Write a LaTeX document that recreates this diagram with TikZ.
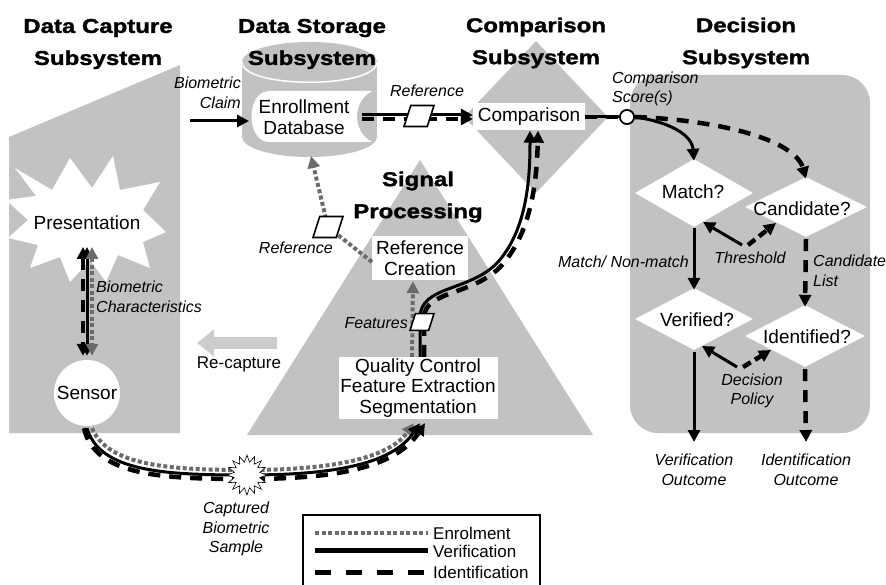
\documentclass[tikz,border=0pt]{standalone}
\usepackage{fontspec}
\setmainfont{Liberation Sans}
\newfontfamily\titlefont{Liberation Sans}[FakeStretch=1.2,BoldFeatures={FakeBold=1.5}]
\usetikzlibrary{arrows.meta,shapes.geometric}
\definecolor{panel}{gray}{0.76}
\definecolor{egray}{gray}{0.42}
\definecolor{rgray}{gray}{0.8}
\tikzset{
 ttl/.style={font=\titlefont\bfseries\fontsize{20}{32}\selectfont, align=center, inner sep=0pt},
 body/.style={font=\fontsize{19}{20.5}\selectfont, align=center, inner sep=0pt},
 lbl/.style={font=\itshape\fontsize{16}{19.5}\selectfont, inner sep=0pt},
 leg/.style={font=\fontsize{17}{19}\selectfont, inner sep=0pt, anchor=west},
 enrol/.style={draw=egray, line width=4pt, dash pattern=on 4pt off 2.5pt},
 verif/.style={draw=black, line width=3pt},
 ident/.style={draw=black, line width=4.5pt, dash pattern=on 12pt off 9pt},
 arr/.style={-{Triangle[length=12pt,width=12pt]}},
 darr/.style={{Triangle[length=12pt,width=12pt]}-{Triangle[length=12pt,width=12pt]}},
 wdiam/.style={diamond, fill=white, inner sep=0pt},
 wbox/.style={fill=white, inner sep=0pt},
 parapic/.pic={\draw[line width=1.6pt, fill=white] (-#1,#1*0.7) -- (-#1*0.55,-#1*0.7) -- (#1,-#1*0.7) -- (#1*0.55,#1*0.7) -- cycle;},
}
\begin{document}
\begin{tikzpicture}[x=1pt,y=-1pt]
\useasboundingbox (0,0) rectangle (886,585);

% ---------- grey subsystem shapes ----------
\fill[panel] (9,137) -- (180,65) -- (180,433) -- (9,433) -- cycle;
\fill[panel] (242,62) rectangle (377,137);
\fill[panel] (309.5,62) ellipse [x radius=67.5pt, y radius=20pt];
\fill[panel] (309.5,137) ellipse [x radius=67.5pt, y radius=20pt];
\draw[white, line width=1.5pt] (242,62) .. controls (242,89) and (377,89) .. (377,62);
\node[diamond, fill=panel, inner sep=0pt, minimum width=144pt, minimum height=152pt] (cmpD) at (536,117) {};
\fill[panel] (420,160) -- (593,435) -- (247,435) -- cycle;
\fill[panel, rounded corners=28pt] (630,75) rectangle (870,433);

% ---------- white shapes ----------
\fill[white] (15,168) -- (52,190) -- (70,158) -- (92,188) -- (113,156) -- (120,190) -- (160,182)
  -- (143,210) -- (166,232) -- (143,242) -- (150,268) -- (118,255) -- (106,282) -- (90,260)
  -- (70,282) -- (60,257) -- (30,268) -- (38,245) -- (8,238) -- (28,220) -- (6,200) -- (36,196) -- cycle;
\node[body] (pres) at (87,223) {Presentation};
\coordinate (presB) at (87,247);
\node[circle, fill=white, minimum size=66pt, inner sep=0pt, body] (sensor) at (87,393) {Sensor};

\fill[white] (268,91) -- (372,91) .. controls (352,102) and (352,131) .. (372,142) -- (268,142)
  .. controls (246,140) and (246,93) .. (268,91);
\node[body] (db) at (304,117) {Enrollment\\Database};
\coordinate (dbW) at (249,121);
\coordinate (dbE) at (362,117);
\coordinate (dbS) at (311,156);

\node[body, wbox, minimum width=112pt, minimum height=27pt] (cmp) at (529,117) {Comparison};
\node[body, wbox, minimum width=96pt, minimum height=44pt] (refc) at (420,258) {Reference\\Creation};
\node[body, wbox, minimum width=159pt, minimum height=62pt] (qc) at (418,388) {Quality Control\\Feature Extraction\\Segmentation};

\node[wdiam, minimum width=118pt, minimum height=68pt] (matchD) at (694,193) {};
\node[wdiam, minimum width=122pt, minimum height=60pt] (candD) at (806,207) {};
\node[wdiam, minimum width=118pt, minimum height=62pt] (verD) at (694,319) {};
\node[wdiam, minimum width=120pt, minimum height=62pt] (identD) at (805,336) {};
\node[body] (matchT) at (693,192) {Match?};
\node[body] (candT) at (802,209) {Candidate?};
\node[body] (verT) at (697,320) {Verified?};
\node[body] (identT) at (807,337) {Identified?};

% ---------- titles ----------
\node[ttl] (tcap) at (98,44) {Data Capture\\Subsystem};
\node[ttl] (tsto) at (312,44) {Data Storage\\Subsystem};
\node[ttl] (tcmp) at (536,43) {Comparison\\Subsystem};
\node[ttl] (tdec) at (746,43) {Decision\\Subsystem};
\node[ttl] (tsig) at (418,197) {Signal\\Processing};

% ---------- capture side ----------
\coordinate (claimS) at (190,121);
\draw[verif, arr] (claimS) -- (dbW);
\draw[ident, darr] ([xshift=-4pt]presB) -- ([xshift=-4pt,yshift=4pt]sensor.north);
\draw[verif, darr] (presB) -- ([yshift=4pt]sensor.north);
\draw[enrol, darr] ([xshift=5pt]presB) -- ([xshift=5pt,yshift=4pt]sensor.north);

\coordinate (rcS) at (277,343);
\coordinate (rcE) at (197,343);
\draw[rgray, line width=12pt, -{Triangle[length=17pt,width=26pt]}] (rcS) -- (rcE);

% sample arc
\draw[enrol, arr] ([xshift=5pt,yshift=-2pt]sensor.south) .. controls (108,466) and (170,470) .. (247,470)
   .. controls (330,470) and (388,459) .. ([xshift=-4pt,yshift=-4pt]qc.south);
\draw[verif, arr] ([yshift=-2pt]sensor.south) .. controls (100,472) and (165,475) .. (247,475)
   .. controls (335,475) and (392,464) .. ([xshift=2pt,yshift=-4pt]qc.south);
\draw[ident, arr] ([xshift=-3pt,yshift=-2pt]sensor.south) .. controls (95,476) and (162,479) .. (247,479)
   .. controls (338,479) and (396,467) .. ([xshift=7pt,yshift=-4pt]qc.south);
\begin{scope}[shift={(247,475)}]
\draw[fill=white, line width=0.6pt] (0:20pt) \foreach \i [evaluate=\i as \r using {mod(\i,2)==0 ? 20 : 13}] in {1,...,31} { -- ({\i*11.25}:\r pt) } -- cycle;
\end{scope}
\coordinate (smp) at (247,475);

% ---------- storage / comparison ----------
\draw[verif, arr] ([yshift=2pt]dbE) -- ([yshift=2pt]cmp.west);
\draw[ident, arr] ([yshift=-2pt]dbE) -- ([yshift=-2pt]cmp.west);
\pic (refpar) at (419,116) {parapic=15};

\node[circle, draw=black, line width=1.6pt, fill=white, minimum size=14pt, inner sep=0pt] (score) at (627,117) {};
\draw[verif] (cmp.east) -- (score.west);
\draw[ident] (cmp.east) -- (score.west);
\node[circle, draw=black, line width=1.6pt, fill=white, minimum size=14pt, inner sep=0pt] (score2) at (score) {};

% ---------- signal processing ----------
\draw[enrol, arr] ([xshift=-6pt]qc.north) -- ([xshift=-7pt,yshift=-1pt]refc.south);
\draw[verif, arr] ([xshift=2pt]qc.north) -- (420,318) .. controls (420,285) and (470,292) .. (498,262)
   .. controls (528,228) and (530,175) .. ([xshift=1pt]cmp.south);
\draw[ident, arr] ([xshift=6pt]qc.north) -- (424,318) .. controls (424,290) and (474,296) .. (502,265)
   .. controls (533,230) and (537,175) .. ([xshift=9pt]cmp.south);
\pic (featpar) at (422,322) {parapic=12};

\coordinate (refcW) at (372,262);
\coordinate (refbend) at (328,227);
\draw[enrol, arr] (refcW) -- (refbend) -- (dbS);
\pic (refpar2) at (refbend) {parapic=15};

% ---------- decision ----------
\draw[verif, arr] (score.east) .. controls (670,122) and (692,135) .. ([yshift=-2pt]matchD.north);
\draw[ident, arr] (score.east) .. controls (720,120) and (795,140) .. ([yshift=-2pt]candD.north);
\draw[verif, arr] ([yshift=-1pt]matchD.south) -- ([yshift=-2pt]verD.north);
\draw[ident, arr] ([yshift=-2pt]candD.south) -- ([yshift=-2pt]identD.north);

\coordinate (thr) at (745,245);
\coordinate (thrM) at (703,222);
\coordinate (thrC) at (776,223);
\draw[verif, arr] ([xshift=-3pt]thr) -- (thrM);
\draw[ident, dash pattern=on 9pt off 5pt, arr] ([xshift=3pt]thr) -- (thrC);

\coordinate (pol) at (740,367);
\coordinate (polV) at (702,346);
\coordinate (polI) at (771,350);
\draw[verif, arr] ([xshift=-3pt]pol) -- (polV);
\draw[ident, dash pattern=on 9pt off 5pt, arr] ([xshift=3pt]pol) -- (polI);

\coordinate (vout) at (694,442);
\coordinate (iout) at (806,442);
\draw[verif, arr] ([yshift=-2pt]verD.south) -- (vout);
\draw[ident, arr] ([yshift=-2pt]identD.south) -- (iout);

% ---------- labels ----------
\node[lbl, align=right, anchor=east] (lclaim) at (241,93) {Biometric\\Claim};
\node[lbl] (lref1) at (427,91) {Reference};
\node[lbl, align=left, anchor=west] (lscore) at (612,89) {Comparison\\Score(s)};
\node[lbl, align=left, anchor=west] (lchar) at (96,297) {Biometric\\Characteristics};
\node[body, font=\fontsize{17}{19}\selectfont] (lrecap) at (239,364) {Re-capture};
\node[lbl, anchor=east] (lref2) at (333,248) {Reference};
\node[lbl, anchor=east] (lfeat) at (408,323) {Features};
\node[lbl, align=center] (lsample) at (236,529) {Captured\\Biometric\\Sample};
\node[lbl, anchor=east] (lmatch) at (689,262) {Match/ Non-match};
\node[lbl] (lthr) at (750,258) {Threshold};
\node[lbl, align=left, anchor=west] (lcand) at (813,271) {Candidate\\List};
\node[lbl, align=center] (lpol) at (752,391) {Decision\\Policy};
\node[lbl, align=center] (lvout) at (694,470) {Verification\\Outcome};
\node[lbl, align=center] (liout) at (806,470) {Identification\\Outcome};

% ---------- legend ----------
\draw[line width=1.3pt] (303,600) -- (303,515) -- (540,515) -- (540,600);
\coordinate (le1a) at (315,533); \coordinate (le1b) at (428,533);
\coordinate (le2a) at (315,550); \coordinate (le2b) at (428,550);
\coordinate (le3a) at (315,572); \coordinate (le3b) at (428,572);
\draw[enrol] (le1a) -- (le1b);
\draw[verif, line width=5pt] (le2a) -- (le2b);
\draw[ident, line width=5pt, dash pattern=on 16pt off 15pt] (le3a) -- (le3b);
\node[leg] (lg1) at (433,533) {Enrolment};
\node[leg] (lg2) at (433,551) {Verification};
\node[leg] (lg3) at (433,572) {Identification};
\end{tikzpicture}
\end{document}
